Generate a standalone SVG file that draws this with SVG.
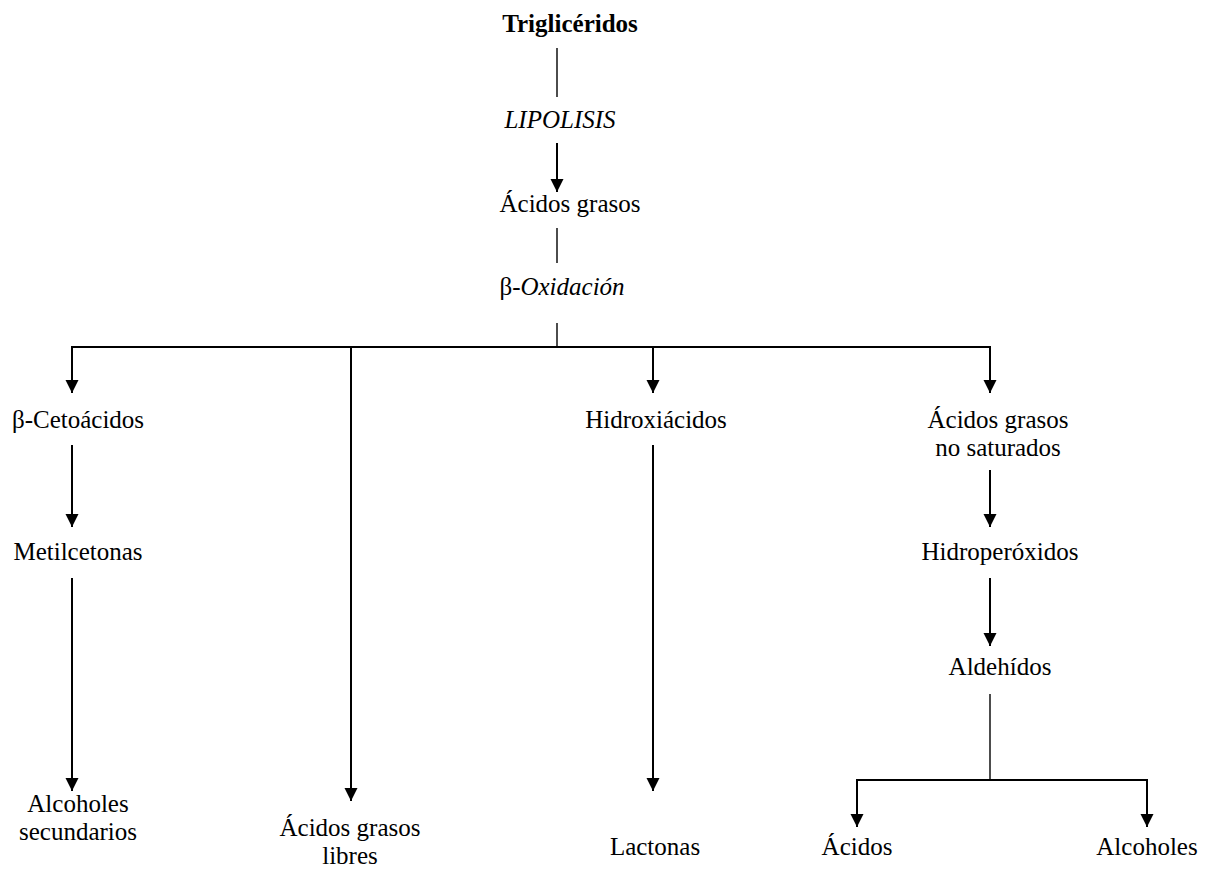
<svg xmlns="http://www.w3.org/2000/svg" width="1207" height="872" viewBox="0 0 1207 872">
<style>
text{font-family:"Liberation Serif","Times New Roman",serif;font-size:25px;fill:#000;text-anchor:middle}
.b{font-weight:bold}
.i{font-style:italic}
.ln{stroke:#000;stroke-width:1.4;fill:none}
.hl{stroke:#000;stroke-width:2;fill:none}
.ar{stroke:#000;stroke-width:2;fill:none;marker-end:url(#ah)}
</style>
<defs>
<marker id="ah" markerUnits="userSpaceOnUse" markerWidth="14" markerHeight="14" refX="13" refY="6.5" orient="auto" viewBox="0 0 14 13">
<path d="M0,0 L13,6.5 L0,13 Z" fill="#000"/>
</marker>
</defs>
<rect width="1207" height="872" fill="#fff"/>
<g id="connectors">
<line class="ln" x1="557" y1="48" x2="557" y2="97"/>
<line class="ln" x1="557" y1="228" x2="557" y2="263"/>
<line class="ln" x1="557" y1="323" x2="557" y2="347"/>
<line class="hl" x1="71" y1="347" x2="991" y2="347"/>
<line class="ar" x1="557" y1="143" x2="557" y2="192"/>
<line class="ar" x1="72" y1="346" x2="72" y2="393"/>
<line class="ar" x1="351" y1="346" x2="351" y2="801"/>
<line class="ar" x1="653" y1="346" x2="653" y2="393"/>
<line class="ar" x1="990" y1="346" x2="990" y2="393"/>
<line class="ar" x1="72" y1="445" x2="72" y2="527"/>
<line class="ar" x1="72" y1="578" x2="72" y2="791"/>
<line class="ar" x1="653" y1="445" x2="653" y2="791"/>
<line class="ar" x1="990" y1="470" x2="990" y2="527"/>
<line class="ar" x1="990" y1="578" x2="990" y2="646"/>
<line class="ln" x1="990" y1="694" x2="990" y2="780"/>
<line class="hl" x1="856" y1="780" x2="1148" y2="780"/>
<line class="ar" x1="857" y1="779" x2="857" y2="827"/>
<line class="ar" x1="1147" y1="779" x2="1147" y2="827"/>
</g>
<g id="n-trigliceridos"><text class="b" x="570" y="32">Triglicéridos</text></g>
<g id="n-lipolisis"><text class="i" x="560" y="128">LIPOLISIS</text></g>
<g id="n-acidos-grasos"><text x="570" y="212">Ácidos grasos</text></g>
<g id="n-oxidacion"><text x="562" y="295">β-<tspan class="i">Oxidación</tspan></text></g>
<g id="n-cetoacidos"><text x="78" y="428">β-Cetoácidos</text></g>
<g id="n-metilcetonas"><text x="78" y="560">Metilcetonas</text></g>
<g id="n-alcoholes-sec"><text x="78" y="812">Alcoholes</text><text x="78" y="840">secundarios</text></g>
<g id="n-agl"><text x="350" y="836">Ácidos grasos</text><text x="350" y="864">libres</text></g>
<g id="n-hidroxiacidos"><text x="656" y="428">Hidroxiácidos</text></g>
<g id="n-lactonas"><text x="655" y="855">Lactonas</text></g>
<g id="n-agns"><text x="998" y="428">Ácidos grasos</text><text x="998" y="456">no saturados</text></g>
<g id="n-hidroperoxidos"><text x="1000" y="560">Hidroperóxidos</text></g>
<g id="n-aldehidos"><text x="1000" y="675">Aldehídos</text></g>
<g id="n-acidos"><text x="857" y="855">Ácidos</text></g>
<g id="n-alcoholes"><text x="1147" y="855">Alcoholes</text></g>
</svg>
